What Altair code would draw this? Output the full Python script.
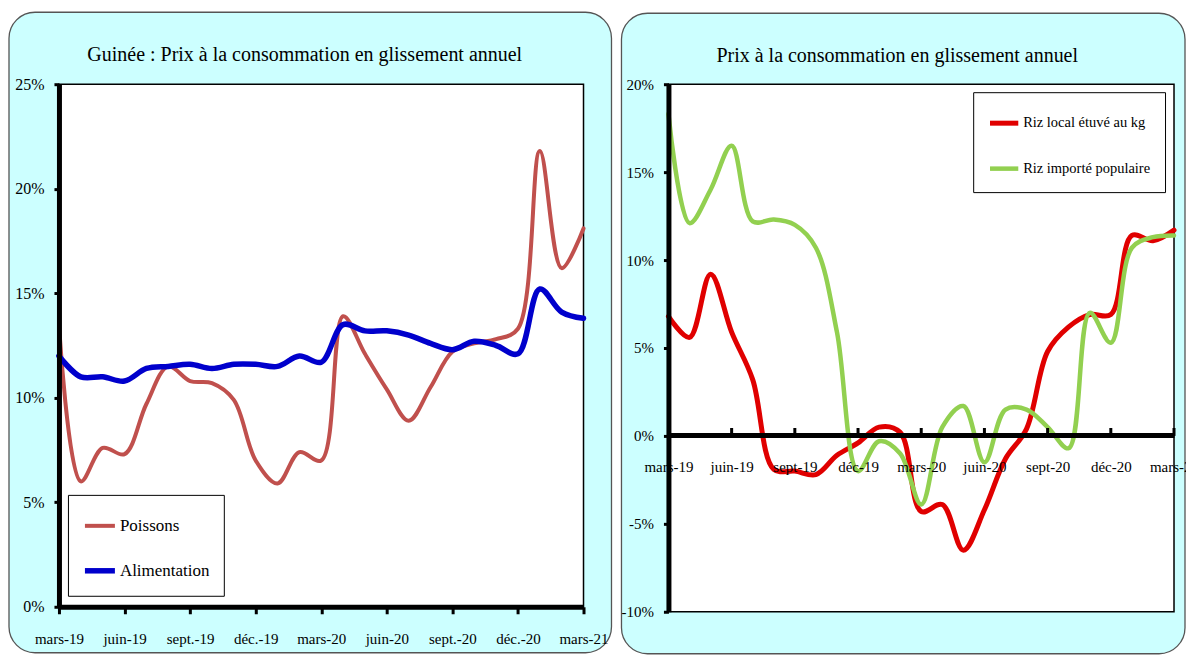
import altair as alt
import pandas as pd

# ---------------- data ----------------
month_index = list(range(25))  # mars-19 ... mars-21

left_tick_labels = ["mars-19", "juin-19", "sept.-19", "déc.-19", "mars-20",
                    "juin-20", "sept.-20", "déc.-20", "mars-21"]
right_tick_labels = ["mars-19", "juin-19", "sept-19", "déc-19", "mars-20",
                     "juin-20", "sept-20", "déc-20", "mars-21"]
tick_positions = [0, 3, 6, 9, 12, 15, 18, 21, 24]

poissons = [13.5, 6.0, 7.6, 7.3, 9.7, 11.5, 10.8, 10.7, 9.9, 7.0, 5.9, 7.4, 7.0,
            13.9, 12.1, 10.4, 8.9, 10.5, 12.2, 12.6, 12.8, 13.3, 21.8, 16.2, 18.1]
alimentation = [12.0, 11.0, 11.0, 10.8, 11.4, 11.5, 11.6, 11.4, 11.6, 11.6, 11.5, 12.0, 11.7,
                13.5, 13.2, 13.2, 13.0, 12.6, 12.3, 12.7, 12.5, 12.1, 15.2, 14.1, 13.8]

riz_local = [6.8, 5.6, 9.2, 5.9, 3.2, -1.9, -2.0, -2.2, -1.1, -0.4, 0.5, 0.2, -4.3,
             -3.9, -6.5, -4.2, -1.3, 0.4, 4.8, 6.2, 6.9, 6.9, 11.4, 11.1, 11.7]
riz_importe = [18.3, 12.1, 14.0, 16.5, 12.2, 12.3, 12.0, 10.7, 5.9, -2.0, -0.3, -1.0, -3.9,
               0.5, 1.7, -1.5, 1.5, 1.5, 0.5, -0.7, 7.0, 5.3, 10.7, 11.3, 11.4]

left_series = ["Poissons", "Alimentation"]
left_colors = ["#C0504D", "#0000CC"]
left_widths = [4, 5.5]
right_series = ["Riz local étuvé au kg", "Riz importé populaire"]
right_colors = ["#E00000", "#92D050"]
right_widths = [5, 4.5]

left_title = "Guinée : Prix à la consommation en glissement annuel"
right_title = "Prix à la consommation en glissement annuel"

FONT = "Liberation Serif"

# ---------------- tables ----------------
left_df = pd.DataFrame({
    "t": month_index * 2,
    "v": poissons + alimentation,
    "serie": [left_series[0]] * 25 + [left_series[1]] * 25,
})
right_df = pd.DataFrame({
    "t": month_index * 2,
    "v": riz_local + riz_importe,
    "serie": [right_series[0]] * 25 + [right_series[1]] * 25,
})
ticks_df = pd.DataFrame({"t": tick_positions[1:]})


def label_expr(labels):
    arr = "[" + ",".join("'" + s + "'" for s in labels) + "]"
    return arr + "[round(datum.value/3)]"


def panel(df, series, colors, widths, tick_labels, title, W, H, ydom, yvals,
          rect_box, title_xy, legend_xy, legend_font, legend_sym, x_offset,
          x_label_pad, y_label_size, extra_ticks):
    one = alt.Data(values=[{}])
    bg = alt.Chart(one).mark_rect(
        fill="#CCFFFF", stroke="#555555", strokeWidth=1.3, cornerRadius=26
    ).encode(
        x=alt.value(rect_box[0]), x2=alt.value(rect_box[1]),
        y=alt.value(rect_box[2]), y2=alt.value(rect_box[3]),
    )
    plot_bg = alt.Chart(one).mark_rect(
        fill="white", stroke="black", strokeWidth=1.5
    ).encode(
        x=alt.value(0), x2=alt.value(W), y=alt.value(0), y2=alt.value(H)
    )
    ttl = alt.Chart(one).mark_text(
        font=FONT, fontSize=20, color="black", align="center", baseline="middle"
    ).encode(
        x=alt.value(title_xy[0]), y=alt.value(title_xy[1]), text=alt.value(title)
    )
    x_enc = alt.X(
        "t:Q",
        scale=alt.Scale(domain=[0, 24], nice=False, zero=False),
        axis=alt.Axis(
            values=tick_positions, labelExpr=label_expr(tick_labels), title=None,
            grid=False, domainColor="black", domainWidth=5,
            tickColor="black", tickWidth=3,
            tickSize=0 if x_offset else 7,
            offset=x_offset, labelPadding=x_label_pad,
            labelFont=FONT, labelFontSize=15, labelColor="black",
            labelOverlap=False, labelFlush=False, zindex=1,
        ),
    )
    y_enc = alt.Y(
        "v:Q",
        scale=alt.Scale(domain=ydom, nice=False, zero=False),
        axis=alt.Axis(
            values=yvals, labelExpr="datum.value + '%'", title=None, grid=False,
            domainColor="black", domainWidth=5, tickColor="black", tickWidth=3,
            tickSize=5, labelPadding=10, labelFont=FONT, labelFontSize=y_label_size,
            labelColor="black", labelFlush=False, zindex=1,
        ),
    )
    lines = alt.Chart(df).mark_line(
        interpolate="catmull-rom", strokeCap="round", strokeJoin="round"
    ).encode(
        x=x_enc,
        y=y_enc,
        color=alt.Color(
            "serie:N",
            sort=series,
            scale=alt.Scale(domain=series, range=colors),
            legend=alt.Legend(
                orient="none", legendX=legend_xy[0], legendY=legend_xy[1],
                title=None, fillColor="white", strokeColor="black",
                padding=14, symbolType="stroke", symbolStrokeWidth=5,
                symbolSize=legend_sym, labelFont=FONT, labelFontSize=legend_font,
                labelColor="black", rowPadding=19, labelOffset=2,
            ),
        ),
        strokeWidth=alt.StrokeWidth(
            "serie:N", scale=alt.Scale(domain=series, range=widths), legend=None
        ),
        detail="serie:N",
    )
    layers = [bg, plot_bg, ttl, lines]
    if extra_ticks:
        rules = alt.Chart(ticks_df).mark_rule(color="black", strokeWidth=3).encode(
            x="t:Q", y=alt.datum(0), y2=alt.datum(0.45)
        )
        layers.append(rules)
    return alt.layer(*layers).properties(width=W, height=H)


left = panel(
    left_df, left_series, left_colors, left_widths, left_tick_labels, left_title,
    W=525, H=523, ydom=[0, 25], yvals=[0, 5, 10, 15, 20, 25],
    rect_box=(-50, 525 + 28, -72, 523 + 46), title_xy=(246, -29),
    legend_xy=(9, 411), legend_font=17, legend_sym=900, x_offset=0,
    x_label_pad=18, y_label_size=16, extra_ticks=False,
)
right = panel(
    right_df, right_series, right_colors, right_widths, right_tick_labels, right_title,
    W=506, H=528, ydom=[-10, 20], yvals=[-10, -5, 0, 5, 10, 15, 20],
    rect_box=(-47, 506 + 11, -71, 528 + 42), title_xy=(229, -28),
    legend_xy=(305, 8), legend_font=14.5, legend_sym=800, x_offset=-177,
    x_label_pad=25, y_label_size=15, extra_ticks=True,
)

chart = alt.hconcat(left, right, spacing=8).resolve_scale(
    color="independent", strokeWidth="independent"
).properties(
    padding={"left": 0, "top": 3, "right": -13, "bottom": 0},
    background="white",
).configure_view(stroke=None)

chart.save("out.html", embed_options={"renderer": "svg", "actions": False})
